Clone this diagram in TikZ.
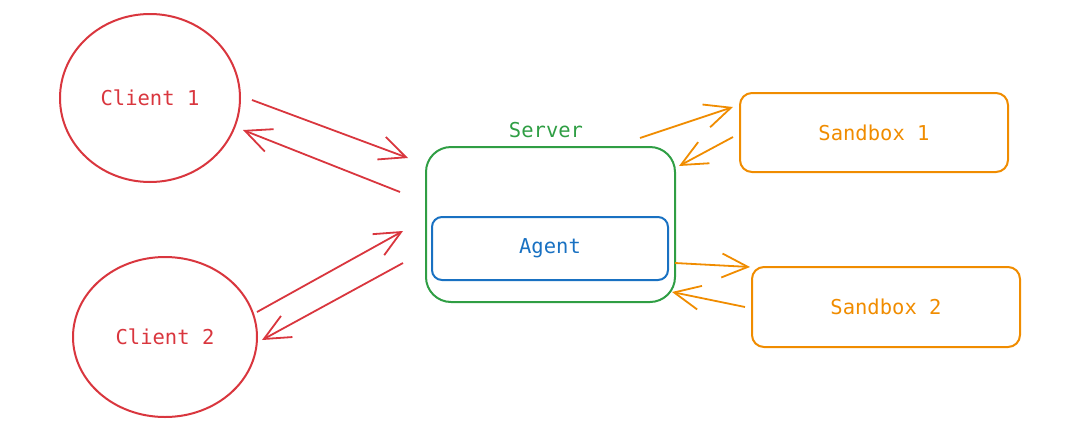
\documentclass[tikz,border=0pt]{standalone}
\usepackage{fontspec}
\setmonofont{DejaVu Sans Mono}
\usetikzlibrary{shapes.geometric,arrows.meta}
\definecolor{cred}{HTML}{D9363E}
\definecolor{cgreen}{HTML}{2F9E44}
\definecolor{cblue}{HTML}{1971C2}
\definecolor{corange}{HTML}{F08C00}
\tikzset{
  client/.style={ellipse,draw=cred,line width=2pt,text=cred,font=\ttfamily\fontsize{20.5}{22}\selectfont},
  box/.style={rectangle,line width=2pt,font=\ttfamily\fontsize{20.5}{22}\selectfont},
  lbl/.style={font=\ttfamily\fontsize{20.5}{22}\selectfont},
  conn/.style={line width=1.8pt,-{Straight Barb[length=26pt,width=24pt,line width=1.8pt]}},
}
\begin{document}
\begin{tikzpicture}[x=1pt,y=-1pt]
\useasboundingbox (0,0) rectangle (1080,432);
% clients
\node[client,minimum width=180pt,minimum height=168pt] (c1) at (150,98) {Client 1};
\node[client,minimum width=184pt,minimum height=160pt] (c2) at (165,337) {Client 2};
% server
\node[box,draw=cgreen,rounded corners=25pt,minimum width=249pt,minimum height=155pt] (srv) at (550.5,224.5) {};
\node[lbl,text=cgreen] (srvl) at (546,130) {Server};
\node[box,draw=cblue,text=cblue,rounded corners=10pt,minimum width=236pt,minimum height=63pt] (agent) at (550,248.5) {Agent};
% sandboxes
\node[box,draw=corange,text=corange,rounded corners=12pt,minimum width=268pt,minimum height=79pt] (sb1) at (874,132.5) {Sandbox 1};
\node[box,draw=corange,text=corange,rounded corners=12pt,minimum width=268pt,minimum height=80pt] (sb2) at (886,307) {Sandbox 2};
% connector ends
\coordinate (a1s) at (252,100); \coordinate (a1e) at (408,158);
\coordinate (a2s) at (400,192); \coordinate (a2e) at (243,130);
\coordinate (a3s) at (257,312); \coordinate (a3e) at (403,231);
\coordinate (a4s) at (403,263); \coordinate (a4e) at (262,340);
\coordinate (b1s) at (640,138); \coordinate (b1e) at (733,107);
\coordinate (b2s) at (733,137); \coordinate (b2e) at (679,166);
\coordinate (b3s) at (675,263); \coordinate (b3e) at (750,267);
\coordinate (b4s) at (745,307); \coordinate (b4e) at (672,292);
\draw[conn,cred] (a1s) -- (a1e);
\draw[conn,cred] (a2s) -- (a2e);
\draw[conn,cred] (a3s) -- (a3e);
\draw[conn,cred] (a4s) -- (a4e);
\draw[conn,corange] (b1s) -- (b1e);
\draw[conn,corange] (b2s) -- (b2e);
\draw[conn,corange] (b3s) -- (b3e);
\draw[conn,corange] (b4s) -- (b4e);
\end{tikzpicture}
\end{document}
